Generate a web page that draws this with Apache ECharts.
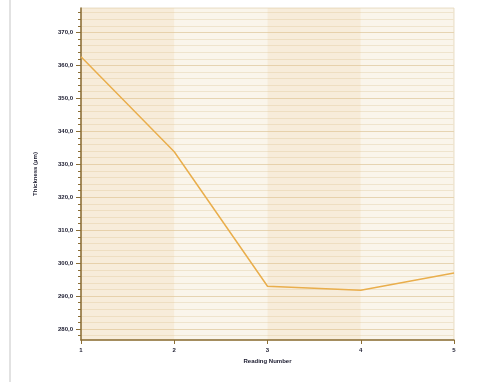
<!DOCTYPE html>
<html><head><meta charset="utf-8">
<script src="https://cdn.jsdelivr.net/npm/echarts@6/dist/echarts.min.js"></script>
<style>html,body{margin:0;padding:0;background:#fff}#c{width:499px;height:382px}</style>
</head><body><div id="c"></div>
<script>
const categories = ['1', '2', '3', '4', '5'];
const thickness = [362.6, 333.8, 293.0, 291.8, 297.0];
const yMin = 276.7, yMax = 377.4;
const yLabels = [280, 290, 300, 310, 320, 330, 340, 350, 360, 370];
const yTicks = [278, 280, 282, 284, 286, 288, 290, 292, 294, 296, 298, 300, 302, 304, 306, 308, 310, 312, 314, 316, 318, 320, 322, 324, 326, 328, 330, 332, 334, 336, 338, 340, 342, 344, 346, 348, 350, 352, 354, 356, 358, 360, 362, 364, 366, 368, 370, 372, 374, 376];

const chart = echarts.init(document.getElementById('c'), null, {renderer: 'canvas'});
const lab = {fontFamily: 'Liberation Sans', fontWeight: 'bold', fontSize: 6, color: '#1a1a2e'};
const minorC = '#f3ebdc', majorC = '#e8d9bc';
chart.setOption({
  animation: false,
  graphic: [{type: 'rect', shape: {x: 9, y: 0, width: 2, height: 382}, style: {fill: '#e2e2e2'}, silent: true}],
  grid: {left: 81, right: 45, top: 8, bottom: 42, show: true, borderColor: '#e9dfca', borderWidth: 1, backgroundColor: 'transparent'},
  xAxis: {
    type: 'category', data: categories, boundaryGap: false,
    name: 'Reading Number', nameLocation: 'middle', nameGap: 18,
    nameTextStyle: Object.assign({}, lab),
    axisLine: {lineStyle: {color: '#8a6d35', width: 1.5}},
    axisTick: {show: true, length: 4, lineStyle: {color: '#8a6d35'}},
    axisLabel: Object.assign({margin: 7}, lab),
    splitLine: {show: false},
    splitArea: {show: true, areaStyle: {color: ['rgba(228,192,132,0.3)', 'rgba(222,188,122,0.15)']}}
  },
  yAxis: [{
    type: 'value', min: yMin, max: yMax,
    name: 'Thickness (µm)', nameLocation: 'middle', nameGap: 43,
    nameTextStyle: Object.assign({}, lab),
    axisLine: {show: true, lineStyle: {color: '#8a6d35', width: 1.5}},
    axisTick: {show: true, length: 3, customValues: yTicks, lineStyle: {color: '#8a6d35'}},
    axisLabel: Object.assign({margin: 8, customValues: yLabels, formatter: v => v.toFixed(1).replace('.', ',')}, lab),
    splitLine: {show: true, lineStyle: {color: [minorC, majorC, minorC, minorC, minorC], width: 1}}
  }, {
    type: 'value', min: yMin, max: yMax, position: 'left', offset: 0,
    axisLine: {show: false},
    axisTick: {show: true, length: 5, customValues: yLabels, lineStyle: {color: '#8a6d35'}},
    axisLabel: {show: false},
    splitLine: {show: false}
  }],
  series: [{
    type: 'line', data: thickness, symbol: 'none', z: 3,
    lineStyle: {color: '#e9ae4c', width: 1.5}
  }]
});
</script></body></html>
